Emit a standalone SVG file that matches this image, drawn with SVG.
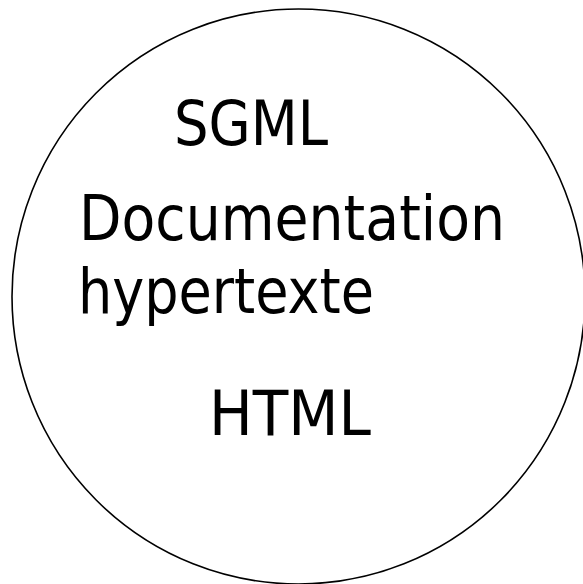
<svg xmlns="http://www.w3.org/2000/svg" width="583" height="584" viewBox="0 0 583 584">
<style>
.t{font-family:"DejaVu Sans","Liberation Sans",sans-serif;font-size:63px;fill:#000}
</style>
<rect width="583" height="584" fill="#fff"/>
<g id="circle">
<ellipse cx="298.5" cy="296.5" rx="286.5" ry="287.5" fill="none" stroke="#000" stroke-width="1.6"/>
</g>
<g id="labels">
<text class="t" x="174" y="145" textLength="154" lengthAdjust="spacingAndGlyphs">SGML</text>
<text class="t" x="79" y="240" textLength="426" lengthAdjust="spacingAndGlyphs">Documentation</text>
<text class="t" x="78" y="313" textLength="296" lengthAdjust="spacingAndGlyphs">hypertexte</text>
<text class="t" x="209" y="435" textLength="162" lengthAdjust="spacingAndGlyphs">HTML</text>
</g>
</svg>
